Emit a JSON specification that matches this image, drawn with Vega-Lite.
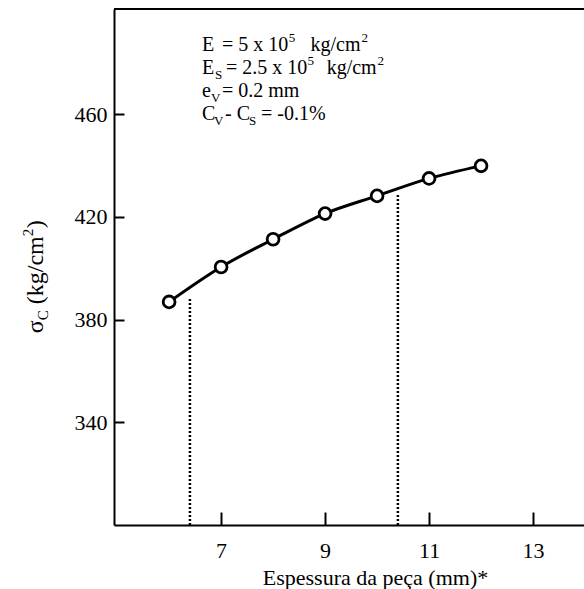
{
  "$schema": "https://vega.github.io/schema/vega-lite/v6.json",
  "width": 470,
  "height": 516,
  "autosize": {"type": "none"},
  "padding": {"left": 114, "top": 9, "right": 0, "bottom": 64},
  "background": "white",
  "config": {
    "view": {"stroke": null},
    "text": {"font": "Liberation Serif", "color": "black"}
  },
  "datasets": {
    "points": [
      {"t": 6, "s": 386.9},
      {"t": 7, "s": 400.5},
      {"t": 8, "s": 411.3},
      {"t": 9, "s": 421.3},
      {"t": 10, "s": 428.2},
      {"t": 11, "s": 435.0},
      {"t": 12, "s": 439.9}
    ],
    "drops": [
      {"t": 6.4, "s": 300, "s1": 388.3},
      {"t": 10.4, "s": 300, "s1": 429.0}
    ],
    "noteMain": [
      {"t": 6.632, "s": 484.5, "txt": "E"},
      {"t": 7.017, "s": 484.5, "txt": "= 5 x 10"},
      {"t": 8.72, "s": 484.5, "txt": "kg/cm"},
      {"t": 6.632, "s": 475.6, "txt": "E"},
      {"t": 7.094, "s": 475.6, "txt": "= 2.5 x 10"},
      {"t": 9.03, "s": 475.6, "txt": "kg/cm"},
      {"t": 6.632, "s": 466.6, "txt": "e"},
      {"t": 7.017, "s": 466.6, "txt": "= 0.2 mm"},
      {"t": 6.632, "s": 457.7, "txt": "C"},
      {"t": 7.075, "s": 457.7, "txt": "- C"},
      {"t": 7.767, "s": 457.7, "txt": "= -0.1%"}
    ],
    "noteSub": [
      {"t": 6.882, "s": 475.6, "txt": "S"},
      {"t": 6.805, "s": 466.6, "txt": "V"},
      {"t": 6.863, "s": 457.7, "txt": "V"},
      {"t": 7.536, "s": 457.7, "txt": "S"}
    ],
    "noteSup": [
      {"t": 8.30, "s": 484.5, "txt": "5"},
      {"t": 9.70, "s": 484.5, "txt": "2"},
      {"t": 8.66, "s": 475.6, "txt": "5"},
      {"t": 10.01, "s": 475.6, "txt": "2"}
    ],
    "yTitleMain": [
      {"t": 3.575, "s": 374.7, "txt": "σ"},
      {"t": 3.575, "s": 386.0, "txt": "(kg/cm"},
      {"t": 3.575, "s": 415.6, "txt": ")"}
    ],
    "yTitleSub": [
      {"t": 3.575, "s": 379.8, "txt": "C"}
    ],
    "yTitleSup": [
      {"t": 3.575, "s": 412.5, "txt": "2"}
    ]
  },
  "encoding": {
    "x": {
      "field": "t",
      "type": "quantitative",
      "scale": {"domain": [4.94, 13.98], "nice": false, "zero": false},
      "axis": {
        "values": [7, 9, 11, 13],
        "grid": false,
        "domainColor": "black",
        "domainWidth": 2,
        "tickColor": "black",
        "tickWidth": 2,
        "tickSize": -13,
        "labelPadding": 28,
        "labelColor": "black",
        "labelFont": "Liberation Serif",
        "labelFontSize": 22,
        "title": "Espessura da peça (mm)*",
        "titleFont": "Liberation Serif",
        "titleFontSize": 22,
        "titleFontWeight": "normal",
        "titleColor": "black",
        "titleX": 261,
        "titleY": 59,
        "titleBaseline": "alphabetic",
        "titleAnchor": "middle",
        "titleAlign": "center"
      }
    },
    "y": {
      "field": "s",
      "type": "quantitative",
      "scale": {"domain": [300, 501], "nice": false, "zero": false},
      "axis": {
        "values": [340, 380, 420, 460],
        "grid": false,
        "domainColor": "black",
        "domainWidth": 2,
        "tickColor": "black",
        "tickWidth": 2,
        "tickSize": -10,
        "labelPadding": 17,
        "labelColor": "black",
        "labelFont": "Liberation Serif",
        "labelFontSize": 22,
        "title": null
      }
    }
  },
  "layer": [
    {
      "data": {"name": "drops"},
      "mark": {"type": "rule", "strokeDash": [2, 2], "strokeWidth": 2.5, "color": "black"},
      "encoding": {"y2": {"field": "s1"}}
    },
    {
      "data": {"name": "points"},
      "mark": {"type": "line", "interpolate": "monotone", "strokeWidth": 3, "color": "black"},
      "encoding": {}
    },
    {
      "data": {"name": "points"},
      "mark": {"type": "point", "shape": "circle", "filled": true, "fill": "white", "stroke": "black", "strokeWidth": 2.8, "size": 140, "opacity": 1},
      "encoding": {}
    },
    {
      "data": {"values": [{"t": 4.94, "s": 501}]},
      "mark": {"type": "rule", "strokeWidth": 2, "color": "black"},
      "encoding": {"x": {"datum": 4.94}, "x2": {"datum": 13.98}, "y": {"datum": 501}}
    },
    {
      "data": {"name": "noteMain"},
      "mark": {"type": "text", "align": "left", "baseline": "alphabetic", "fontSize": 20},
      "encoding": {"text": {"field": "txt"}}
    },
    {
      "data": {"name": "noteSub"},
      "mark": {"type": "text", "align": "left", "baseline": "alphabetic", "fontSize": 13, "dy": 5},
      "encoding": {"text": {"field": "txt"}}
    },
    {
      "data": {"name": "noteSup"},
      "mark": {"type": "text", "align": "left", "baseline": "alphabetic", "fontSize": 13, "dy": -9},
      "encoding": {"text": {"field": "txt"}}
    },
    {
      "data": {"name": "yTitleMain"},
      "mark": {"type": "text", "align": "left", "baseline": "alphabetic", "fontSize": 24, "angle": 270},
      "encoding": {"text": {"field": "txt"}}
    },
    {
      "data": {"name": "yTitleSub"},
      "mark": {"type": "text", "align": "left", "baseline": "alphabetic", "fontSize": 15, "angle": 270, "dy": 5},
      "encoding": {"text": {"field": "txt"}}
    },
    {
      "data": {"name": "yTitleSup"},
      "mark": {"type": "text", "align": "left", "baseline": "alphabetic", "fontSize": 15, "angle": 270, "dy": -10},
      "encoding": {"text": {"field": "txt"}}
    }
  ]
}
